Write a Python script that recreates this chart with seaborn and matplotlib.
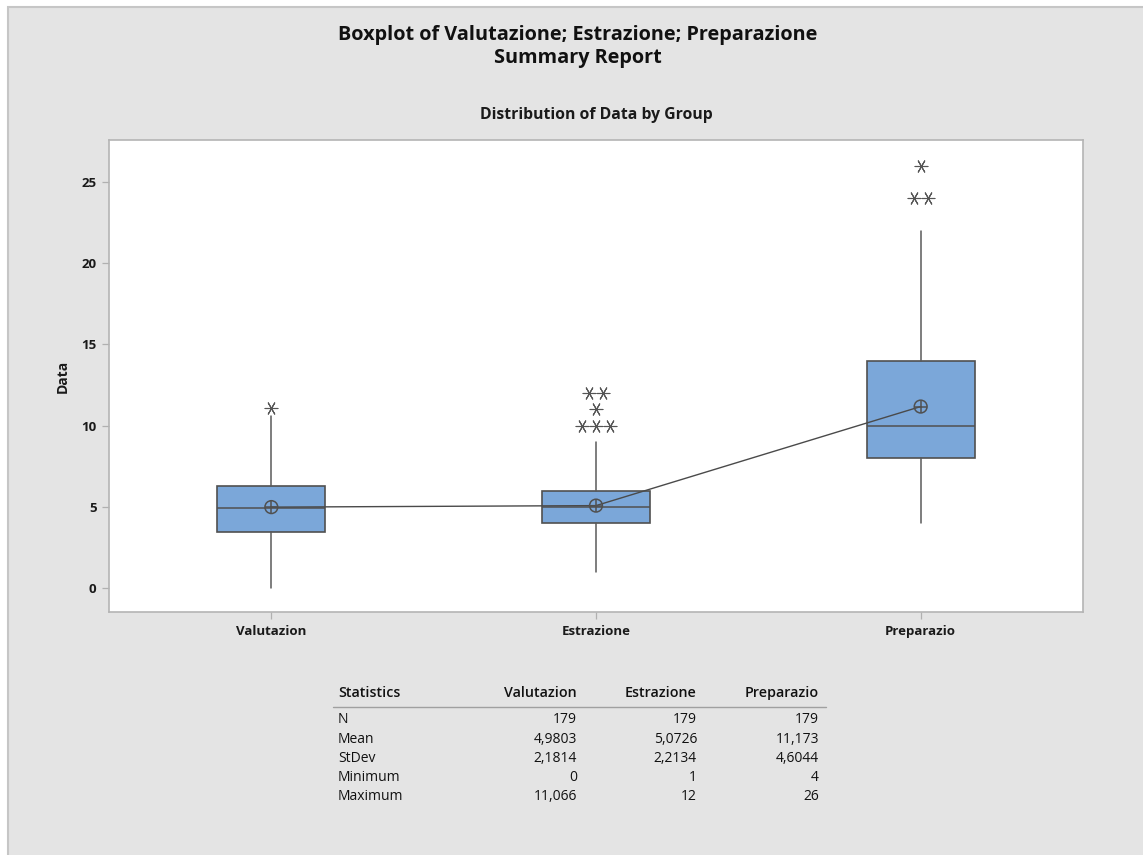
import matplotlib
matplotlib.use("Agg")
import matplotlib.pyplot as plt
from matplotlib.patches import Rectangle
from matplotlib.lines import Line2D
import seaborn as sns
import pandas as pd

# ---- data -------------------------------------------------------------
groups = ["Valutazion", "Estrazione", "Preparazio"]
q1 = [3.43, 4.0, 8.0]
median = [4.95, 5.0, 10.0]
q3 = [6.30, 6.0, 14.0]
whisker_high = [10.6, 9.0, 22.0]
n_obs = [179, 179, 179]
means = [4.9803, 5.0726, 11.173]
stdevs = [2.1814, 2.2134, 4.6044]
minimums = [0, 1, 4]
maximums = [11.066, 12, 26]
outliers = [[11.066], [10, 10, 10, 11, 12, 12], [24, 24, 26]]
y_ticks = [0, 5, 10, 15, 20, 25]

# ---- style ------------------------------------------------------------
sns.set_theme(style="white")
plt.rcParams["font.family"] = ["Open Sans", "DejaVu Sans"]

W, H = 1143, 855
fig = plt.figure(figsize=(W / 100, H / 100), dpi=100)
fig.patch.set_facecolor("white")
fig.add_artist(Rectangle((8 / W, -0.01), 1.02 - 8 / W, 1.01 - 7 / H,
                         transform=fig.transFigure, facecolor="#e4e4e4",
                         edgecolor="#c6c6c6", lw=1.5, zorder=-10))


def fx(px):
    return px / W


def fy(py):
    return 1 - py / H


ax = fig.add_axes([fx(109), fy(612), fx(1083) - fx(109), fy(140) - fy(612)])
ax.set_facecolor("white")

BOX_FILL = "#7ba7d9"
EDGE = "#505050"

stats = []
for i, g in enumerate(groups):
    stats.append(dict(label=g, q1=q1[i], med=median[i], q3=q3[i],
                      whislo=minimums[i], whishi=whisker_high[i], fliers=[]))

positions = list(range(len(groups)))
ax.bxp(stats, positions=positions, widths=0.333, patch_artist=True,
       showcaps=False, showfliers=False,
       boxprops=dict(facecolor=BOX_FILL, edgecolor=EDGE, linewidth=1.2),
       medianprops=dict(color=EDGE, linewidth=1.1),
       whiskerprops=dict(color="#5a5a5a", linewidth=1.1))

# outliers: repeated values placed side by side
step = 0.044
ox, oy = [], []
for i, vals in enumerate(outliers):
    counts = {}
    for v in vals:
        counts[v] = counts.get(v, 0) + 1
    for v, c in counts.items():
        for k in range(c):
            ox.append(i + (k - (c - 1) / 2) * step)
            oy.append(v)
out_df = pd.DataFrame({"x": ox, "y": oy})
sns.scatterplot(data=out_df, x="x", y="y", ax=ax, marker=(6, 2, 30), s=85,
                color="#555555", linewidth=0.8, zorder=5)

# connect line through the group means
mean_df = pd.DataFrame({"x": positions, "y": means})
sns.lineplot(data=mean_df, x="x", y="y", ax=ax, color="#4a4a4a", linewidth=1.0,
             zorder=4)
ax.scatter(positions, means, s=85, marker="o", facecolors="none",
           edgecolors="#505050", linewidths=1.1, zorder=6)
ax.scatter(positions, means, s=85, marker="+", color="#505050",
           linewidths=1.1, zorder=6)

ax.set_xlim(-0.5, 2.5)
ax.set_ylim(-1.48, 27.59)
ax.set_yticks(y_ticks)
ax.set_xticks(positions)
ax.set_xticklabels(groups)
ax.set_xlabel("")
ax.set_ylabel("Data", fontsize=10, fontweight="bold", color="#1a1a1a", labelpad=8)
for lbl in ax.get_xticklabels() + ax.get_yticklabels():
    lbl.set_fontweight("bold")
    lbl.set_fontsize(9.5)
    lbl.set_color("#1a1a1a")
ax.tick_params(axis="both", which="both", direction="out", length=5, width=0.9,
               color="#b0b0b0", left=True, bottom=True, pad=4)
for sp in ax.spines.values():
    sp.set_color("#b4b4b4")
    sp.set_linewidth(1.2)

# ---- titles -----------------------------------------------------------
fig.text(fx(578), fy(35), "Boxplot of Valutazione; Estrazione; Preparazione",
         ha="center", va="center", fontsize=14.3, fontweight="bold", color="#111111")
fig.text(fx(578), fy(58), "Summary Report", ha="center", va="center",
         fontsize=14.3, fontweight="bold", color="#111111")
fig.text(fx(596), fy(115), "Distribution of Data by Group", ha="center",
         va="center", fontsize=11.3, fontweight="bold", color="#1a1a1a")

# ---- statistics table -------------------------------------------------
def fmt(v):
    return f"{v:.5g}".replace(".", ",")


col_right = [577, 697, 819]
tcolor = "#111111"
fig.text(fx(338), fy(693), "Statistics", ha="left", va="center", fontsize=10.3,
         fontweight="semibold", color=tcolor)
for g, xr in zip(groups, col_right):
    fig.text(fx(xr), fy(693), g, ha="right", va="center", fontsize=10.3,
             fontweight="semibold", color=tcolor)
fig.add_artist(Line2D([fx(333), fx(826)], [fy(707), fy(707)],
                      transform=fig.transFigure, color="#a0a0a0", lw=1.0))

rows = [("N", n_obs), ("Mean", means), ("StDev", stdevs),
        ("Minimum", minimums), ("Maximum", maximums)]
row_y = [719, 739, 758, 777, 796]
for (name, vals), ry in zip(rows, row_y):
    fig.text(fx(338), fy(ry), name, ha="left", va="center", fontsize=10,
             color=tcolor)
    for v, xr in zip(vals, col_right):
        fig.text(fx(xr), fy(ry), fmt(v), ha="right", va="center", fontsize=10,
                 color=tcolor)

fig.savefig("out.png", dpi=100, facecolor=fig.get_facecolor())
